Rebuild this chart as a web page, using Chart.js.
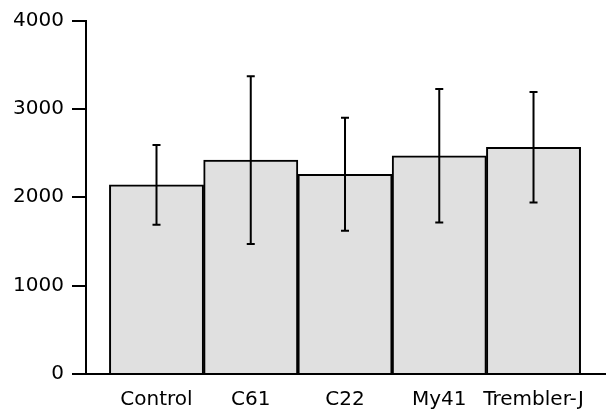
<!DOCTYPE html>
<html>
<head>
<meta charset="utf-8">
<script src="https://cdn.jsdelivr.net/npm/chart.js@4/dist/chart.umd.min.js"></script>
<style>
  html, body { margin: 0; padding: 0; background: #fff; }
  #chart { display: block; }
</style>
</head>
<body>
<canvas id="chart" width="606" height="415"></canvas>
<script>
// values
const CATEGORIES = [ 'Control', 'C61', 'C22', 'My41', 'Trembler-J' ];
const MEANS = [ 2140, 2420, 2260, 2470, 2565 ];
const SD = [ 450, 950, 640, 755, 625 ];
const Y_TICKS = [ 0, 1000, 2000, 3000, 4000 ];

const BAR_FILL = '#e0e0e0';
const INK = '#000000';

Chart.defaults.font.family = "'DejaVu Sans', sans-serif";
Chart.defaults.font.size = 20;
Chart.defaults.color = INK;

// error bars, drawn from the y scale
const errorBars = {
  id: 'errorBars',
  afterDatasetsDraw( chart ) {
    const ctx = chart.ctx;
    const yScale = chart.scales.y;
    const meta = chart.getDatasetMeta( 0 );
    ctx.save();
    ctx.strokeStyle = INK;
    ctx.lineWidth = 2;
    meta.data.forEach( ( bar, i ) => {
      const x = bar.x;
      const top = yScale.getPixelForValue( MEANS[ i ] + SD[ i ] );
      const bottom = yScale.getPixelForValue( MEANS[ i ] - SD[ i ] );
      ctx.beginPath();
      ctx.moveTo( x, top );
      ctx.lineTo( x, bottom );
      ctx.moveTo( x - 4, top );
      ctx.lineTo( x + 4, top );
      ctx.moveTo( x - 4, bottom );
      ctx.lineTo( x + 4, bottom );
      ctx.stroke();
    } );
    ctx.restore();
  }
};

new Chart( document.getElementById( 'chart' ), {
  type: 'bar',
  data: {
    datasets: [ {
      data: MEANS.map( ( v, i ) => ( { x: i, y: v } ) ),
      backgroundColor: BAR_FILL,
      borderColor: INK,
      borderWidth: 2,
      barPercentage: 1,
      categoryPercentage: 1
    } ]
  },
  options: {
    responsive: false,
    animation: false,
    layout: { padding: { top: 20.5, left: 5, right: 0, bottom: 0 } },
    plugins: {
      legend: { display: false },
      tooltip: { enabled: false }
    },
    scales: {
      x: {
        type: 'linear',
        offset: false,
        min: -0.748,
        max: 4.769,
        grid: { display: false, drawTicks: false, offset: false },
        border: { display: true, color: INK, width: 2 },
        afterFit: axis => { axis.height = 41; },
        ticks: {
          stepSize: 1,
          includeBounds: false,
          autoSkip: false,
          maxRotation: 0,
          padding: 14,
          callback: v => CATEGORIES[ v ] !== undefined ? CATEGORIES[ v ] : ''
        }
      },
      y: {
        min: 0,
        max: 4000,
        afterBuildTicks: axis => {
          axis.ticks = Y_TICKS.map( v => ( { value: v } ) );
        },
        afterFit: axis => { axis.width = 81; },
        grid: {
          drawOnChartArea: false,
          drawTicks: true,
          tickLength: 14,
          color: INK,
          lineWidth: 2
        },
        border: { display: true, color: INK, width: 2 },
        ticks: {
          padding: 8,
          callback: v => String( v )
        }
      }
    }
  },
  plugins: [ errorBars ]
} );
</script>
</body>
</html>
